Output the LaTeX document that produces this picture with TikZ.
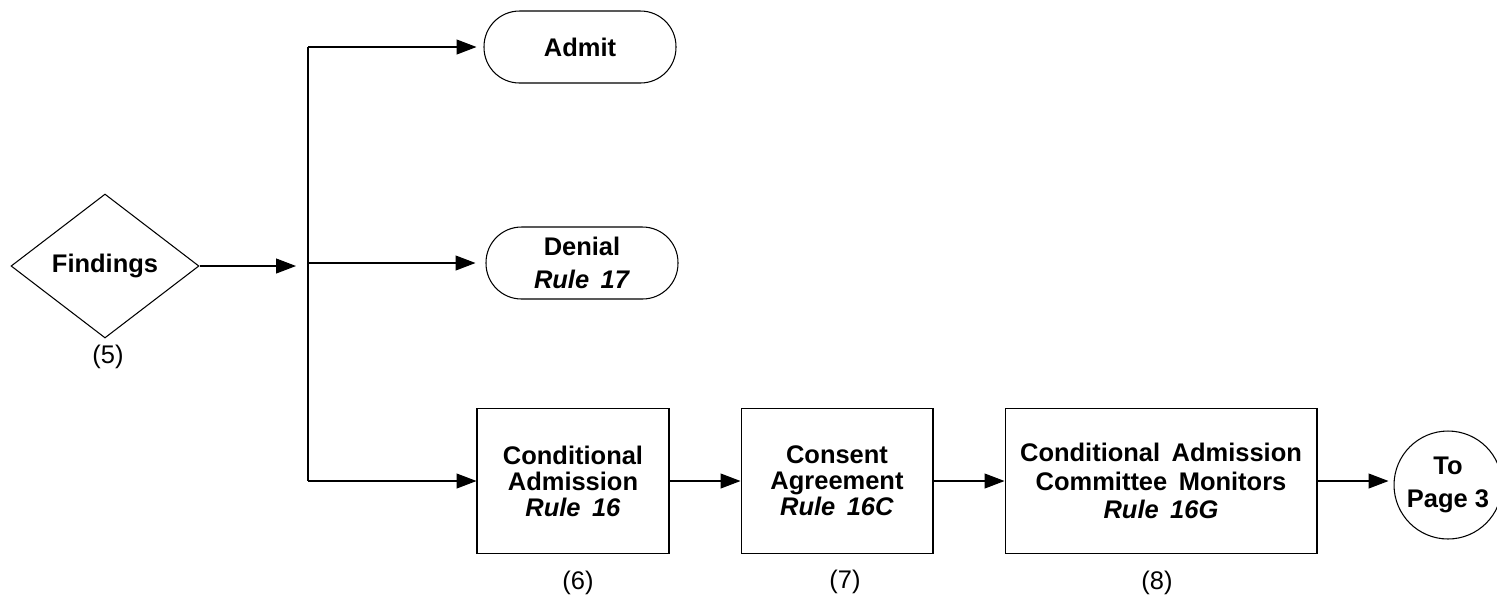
\documentclass[tikz,border=0pt]{standalone}
\usepackage{fontspec}
\setmainfont{Liberation Sans}
\usetikzlibrary{arrows.meta,shapes.geometric}

\newcommand{\regla}[1]{\textit{Rule\hspace{0.45em}#1}}

\tikzset{
  texto/.style={font=\bfseries\fontsize{14.5}{14.8}\selectfont},
  caja/.style={texto, draw, rectangle, minimum width=3.84cm, minimum height=2.9cm,
    inner sep=0pt, align=center, line width=0.6pt},
  terminal/.style={texto, draw, rectangle, rounded corners=0.71cm, minimum width=3.84cm,
    minimum height=1.44cm, inner sep=0pt, align=center, line width=0.6pt,
    font=\bfseries\fontsize{14.5}{18.6}\selectfont},
  decision/.style={texto, draw, diamond, minimum width=3.76cm, minimum height=2.88cm,
    inner sep=0pt, line width=0.6pt},
  conector/.style={texto, draw, circle, minimum size=2.16cm, inner sep=0pt, align=center,
    line width=0.6pt, font=\bfseries\fontsize{14.5}{18.4}\selectfont},
  flecha/.style={-{Triangle[length=0.4cm,width=0.3cm]}, line width=0.6pt},
  numero/.style={font=\fontsize{14.5}{15}\selectfont}
}

\begin{document}
\begin{tikzpicture}[x=0.02cm, y=-0.02cm]
        % Paso 1: Fija el marco del dibujo
        \useasboundingbox (0,0) rectangle (1497,600);

        % Paso 2: Rombo de decision y su numero
        \node[decision] (hallazgos) at (105,266) {\makebox[0pt]{Findings}};
        \node[numero] (n5) at (108,357) {(5)};

        % Paso 3: Resultados posibles
        \node[terminal] (admitir) at (580,47) {Admit};
        \node[terminal] (negar) at (582,263) {Denial\\ \regla{17}};

        % Paso 4: Cadena de admision condicional
        \node[caja] (condicional) at (573,481) {Conditional\\ Admission\\ \regla{16}};
        \node[caja] (acuerdo) at (837,481) {Consent\\ Agreement\\ \regla{16C}};
        \node[caja, minimum width=6.24cm, font=\bfseries\fontsize{14.5}{16.4}\selectfont]
          (comite) at (1161,481) {Conditional\hspace{0.45em}Admission\\
          Committee\hspace{0.45em}Monitors\\ \regla{16G}};
        \node[conector] (pagina) at (1448,485) {To\\ Page 3};

        \node[numero] (n6) at (578,583) {(6)};
        \node[numero] (n7) at (845,582) {(7)};
        \node[numero] (n8) at (1157,583) {(8)};

        % Paso 5: Tronco vertical de ramificacion
        \coordinate (llegada) at (296,266);
        \coordinate (arriba) at (308,47);
        \coordinate (medio) at (308,263);
        \coordinate (abajo) at (308,481);
        \draw[line width=0.6pt] (arriba) -- (abajo);

        % Paso 6: Flechas
        \draw[flecha] (hallazgos.east) -- (llegada);
        \draw[flecha, shorten >=0.14cm] (arriba) -- (admitir.west);
        \draw[flecha, shorten >=0.2cm] (medio) -- (negar.west);
        \draw[flecha] (abajo) -- (condicional.west);
        \draw[flecha] (condicional) -- (acuerdo);
        \draw[flecha] (acuerdo) -- (comite);
        \draw[flecha, shorten >=0.1cm] (comite.east) -- (comite.east -| pagina.west);
    \end{tikzpicture}
\end{document}
